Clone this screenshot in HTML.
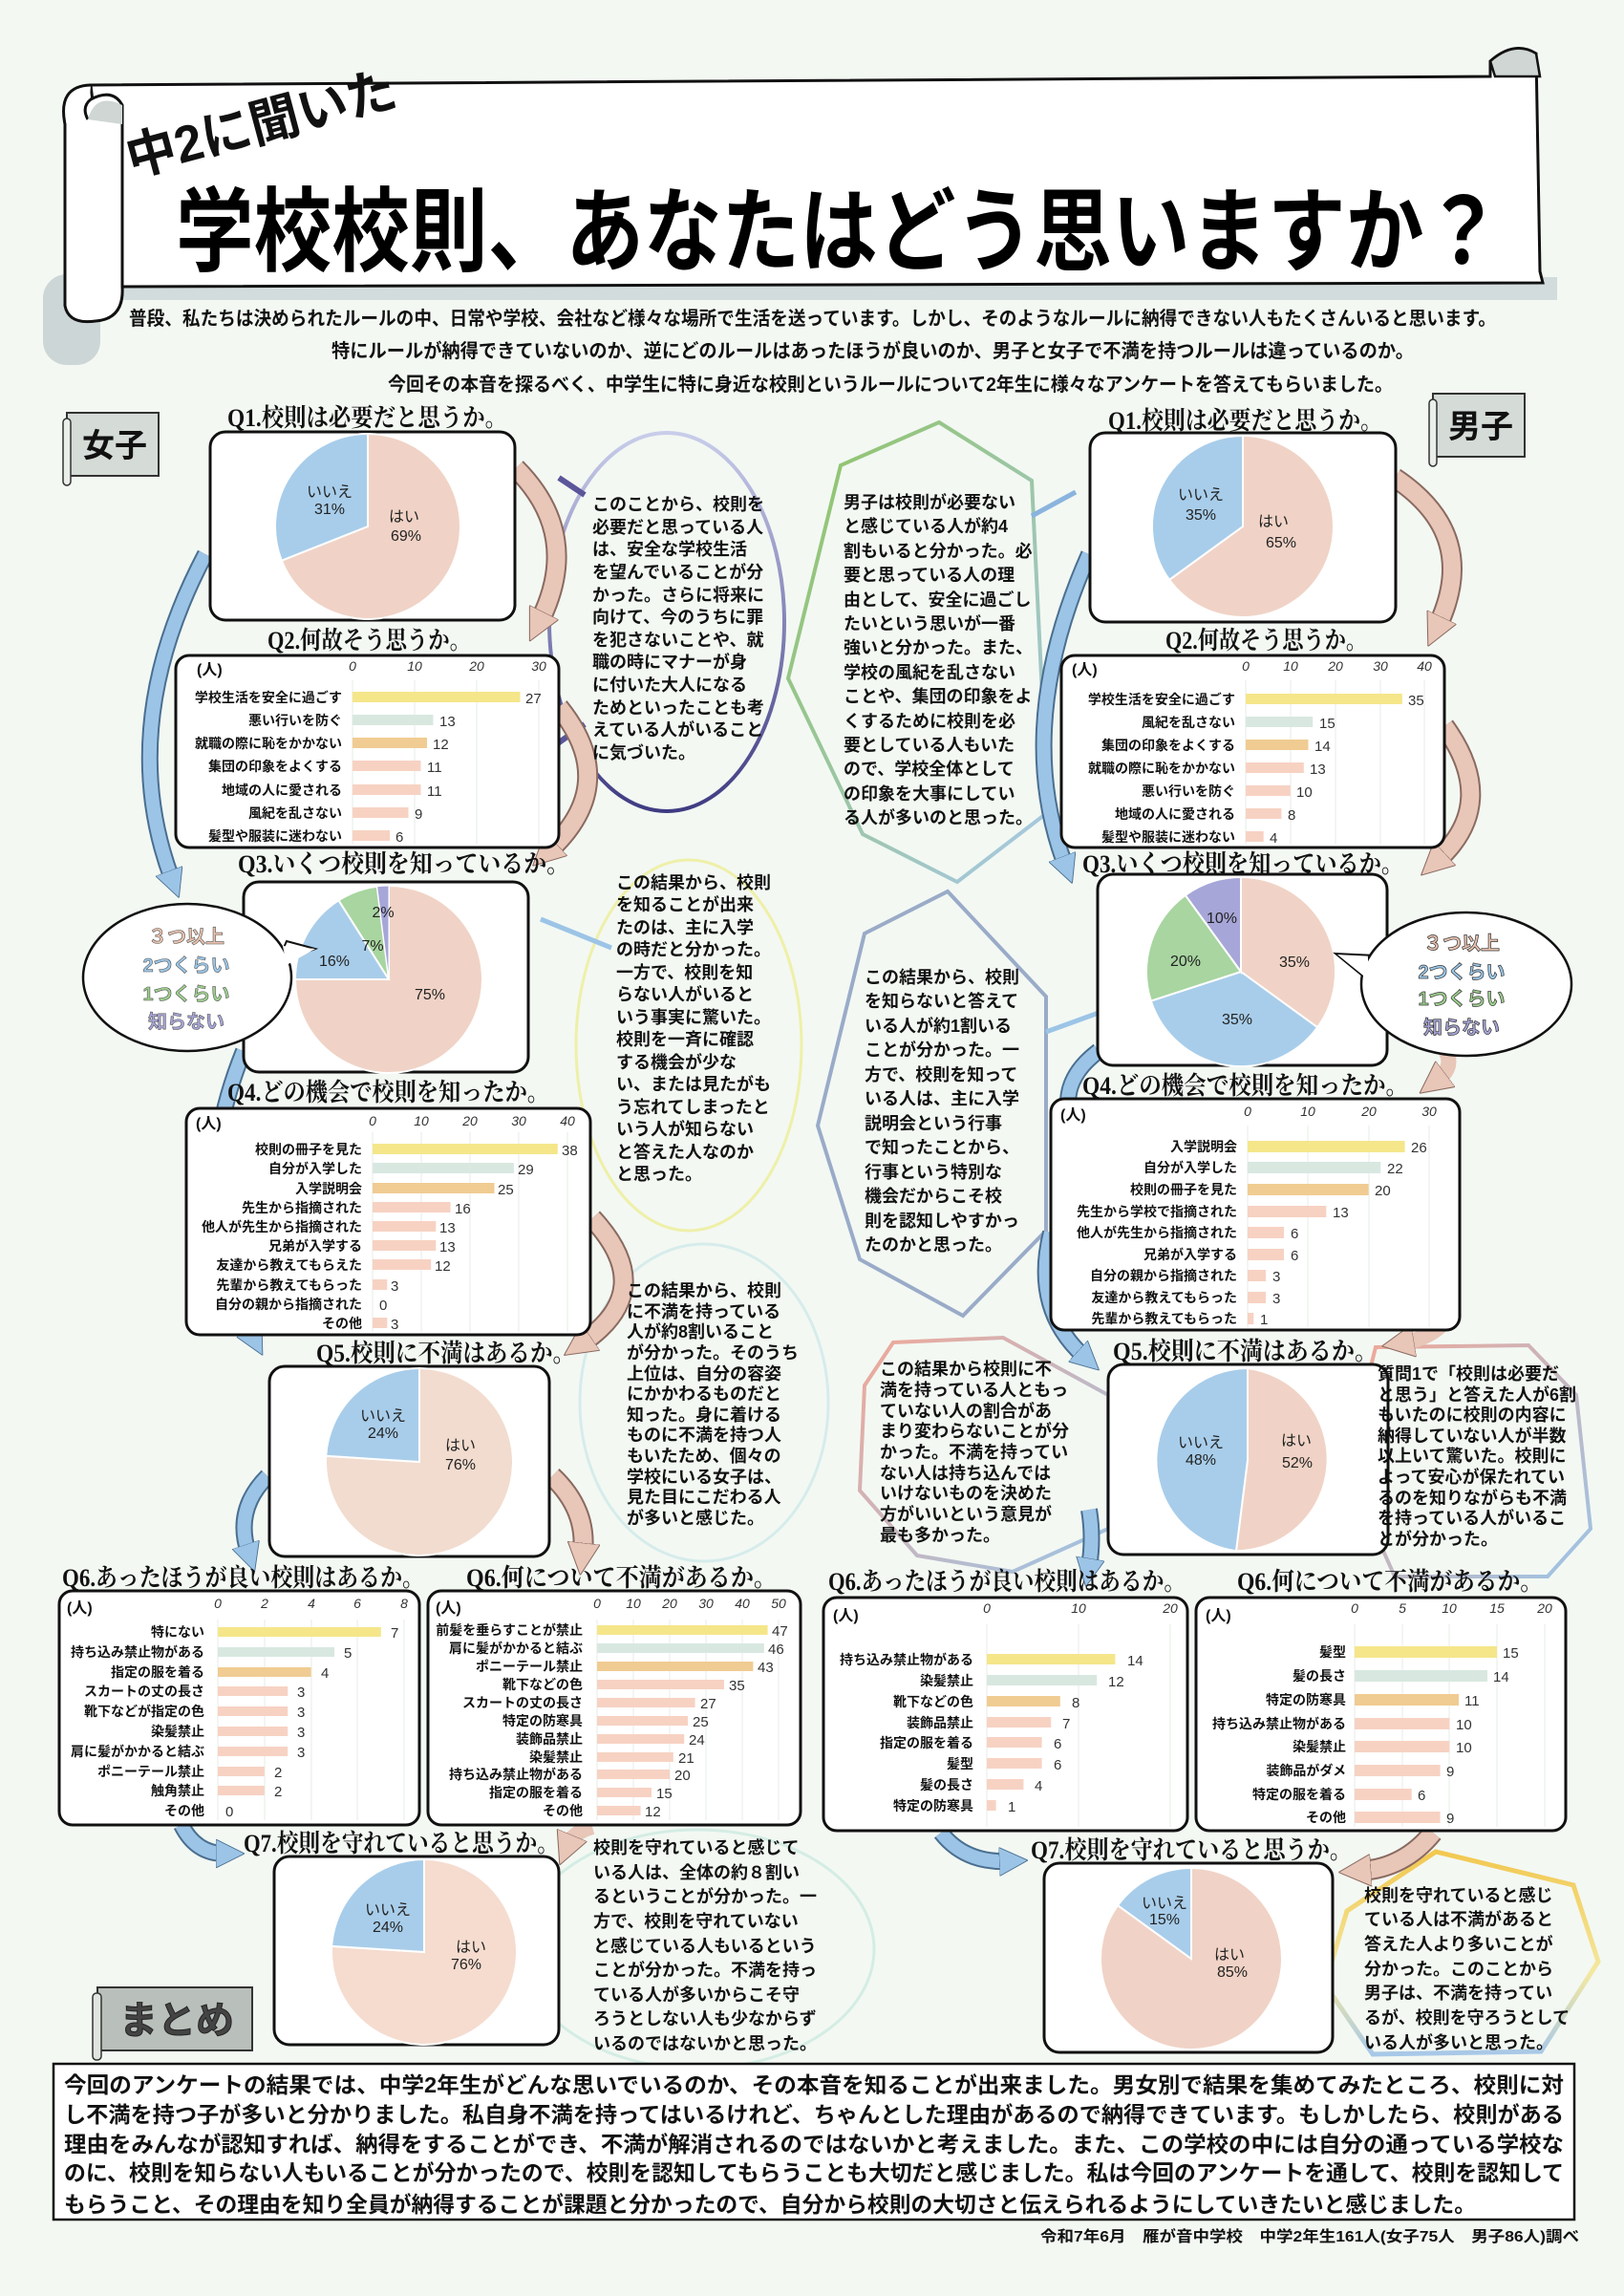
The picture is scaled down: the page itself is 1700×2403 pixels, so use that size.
<!DOCTYPE html>
<html><head><meta charset="utf-8">
<style>
html,body{margin:0;padding:0;background:#f3f8f3;}
svg{display:block}
text{font-family:"Liberation Sans","Noto Sans CJK JP",sans-serif;font-weight:bold;fill:#111}
.h{font-family:"Liberation Serif","Noto Serif CJK SC",serif;font-weight:bold;font-size:26px}
.lb{font-size:14px;text-anchor:end}
.v{font-size:15px;font-weight:normal;fill:#333}
.tk{font-size:14px;font-weight:normal;fill:#333;font-style:italic;text-anchor:middle}
.p{font-size:18px}
.pl{font-size:16px;font-weight:normal;fill:#222;text-anchor:middle}
</style></head><body>
<svg width="1700" height="2403" viewBox="0 0 1700 2403" xmlns="http://www.w3.org/2000/svg">
<defs>
<marker id="ap" markerUnits="userSpaceOnUse" markerWidth="34" markerHeight="34" viewBox="0 0 4 4" refX="1.2" refY="2" orient="auto"><path d="M0,0 L4,2 L0,4 Z" fill="#e8c6b8" stroke="#8a6a60" stroke-width="0.12"/></marker>
<marker id="ab" markerUnits="userSpaceOnUse" markerWidth="30" markerHeight="30" viewBox="0 0 4 4" refX="1.2" refY="2" orient="auto"><path d="M0,0 L4,2 L0,4 Z" fill="#9cc4e6" stroke="#4a6f90" stroke-width="0.12"/></marker>
<linearGradient id="gp" x1="0" y1="0" x2="0" y2="1"><stop offset="0" stop-color="#c9cdea"/><stop offset="1" stop-color="#3f3b82"/></linearGradient>
<linearGradient id="gg" x1="0" y1="0" x2="1" y2="1"><stop offset="0" stop-color="#8fc460"/><stop offset="1" stop-color="#a8c8e8"/></linearGradient>
<linearGradient id="gr" x1="0" y1="0" x2="1" y2="1"><stop offset="0" stop-color="#f0a898"/><stop offset="1" stop-color="#9cc4e6"/></linearGradient>
<linearGradient id="gy" x1="0" y1="0" x2="0" y2="1"><stop offset="0" stop-color="#f2c850"/><stop offset="0.6" stop-color="#f4e8a0"/><stop offset="1" stop-color="#a8c8e8"/></linearGradient>
</defs>

<!-- banner -->
<rect x="45" y="287" width="60" height="95" rx="25" fill="#cdd6d6"/>
<rect x="100" y="290" width="1530" height="24" fill="#d3dcdc"/>
<path d="M95,89 L1560,80 L1560,64 Q1585,42 1608,56 L1612,284 L1615,296 L120,300 Z" fill="#fff" stroke="#111" stroke-width="3"/>
<path d="M1560,64 Q1585,42 1608,56 L1612,80 L1565,80 Z" fill="#cfd6d4" stroke="#111" stroke-width="2.5"/>
<path d="M95,89 Q60,90 68,130 L68,320 Q72,340 100,336 Q130,334 128,300 L128,110 Q118,92 95,104 Q85,112 92,125" fill="#fff" stroke="#111" stroke-width="3"/>
<path d="M92,125 Q100,96 128,110 L128,130 Z" fill="#cfd6d4"/>
<text x="138" y="185" font-size="54" font-family="Liberation Serif,'Noto Serif CJK SC',serif" transform="rotate(-15 138 185)" textLength="290" lengthAdjust="spacingAndGlyphs">中2に聞いた</text>
<text x="184" y="276" font-size="96" font-family="Liberation Serif,'Noto Serif CJK SC',serif" textLength="1388" lengthAdjust="spacingAndGlyphs" style="fill:#000">学校校則、あなたはどう思いますか？</text>

<text x="135" y="340" font-size="20" textLength="1431" lengthAdjust="spacingAndGlyphs">普段、私たちは決められたルールの中、日常や学校、会社など様々な場所で生活を送っています。しかし、そのようなルールに納得できない人もたくさんいると思います。</text>
<text x="347" y="374" font-size="20" textLength="1133" lengthAdjust="spacingAndGlyphs">特にルールが納得できていないのか、逆にどのルールはあったほうが良いのか、男子と女子で不満を持つルールは違っているのか。</text>
<text x="406" y="409" font-size="20" textLength="1052" lengthAdjust="spacingAndGlyphs">今回その本音を探るべく、中学生に特に身近な校則というルールについて2年生に様々なアンケートを答えてもらいました。</text>

<!-- labels -->
<g><rect x="70" y="432" width="96" height="66" fill="#d5dbd6" stroke="#333" stroke-width="2"/><rect x="66" y="438" width="8" height="70" rx="4" fill="#e9eee9" stroke="#333" stroke-width="1.5"/><text x="120" y="478" font-size="34" font-weight="normal" text-anchor="middle" font-family="Liberation Serif,'Noto Serif CJK SC',serif">女子</text></g>
<g><rect x="1500" y="412" width="96" height="66" fill="#d5dbd6" stroke="#333" stroke-width="2"/><rect x="1496" y="418" width="8" height="70" rx="4" fill="#e9eee9" stroke="#333" stroke-width="1.5"/><text x="1550" y="458" font-size="34" font-weight="normal" text-anchor="middle" font-family="Liberation Serif,'Noto Serif CJK SC',serif">男子</text></g>
<g><rect x="102" y="2080" width="162" height="66" fill="#b9bfba" stroke="#333" stroke-width="2"/><rect x="97" y="2086" width="9" height="70" rx="4" fill="#e0e5e0" stroke="#333" stroke-width="1.5"/><text x="185" y="2128" font-size="40" text-anchor="middle" style="fill:#444;stroke:#222;stroke-width:1">まとめ</text></g>

<!-- decorative outlines -->
<ellipse cx="698" cy="651" rx="123" ry="198" fill="none" stroke="url(#gp)" stroke-width="4"/>
<line x1="585" y1="500" x2="612" y2="518" stroke="#5b569a" stroke-width="6"/>
<line x1="567" y1="790" x2="612" y2="758" stroke="#5b569a" stroke-width="6"/>
<polygon points="983,442 1080,503 1097,850 1002,923 903,873 825,710 880,487" fill="none" stroke="url(#gg)" stroke-width="4"/>
<line x1="1080" y1="540" x2="1126" y2="515" stroke="#8ab4de" stroke-width="5"/>
<ellipse cx="721" cy="1094" rx="118" ry="194" fill="none" stroke="#eef0a8" stroke-width="3"/>
<line x1="566" y1="962" x2="640" y2="992" stroke="#9cc4e6" stroke-width="5"/>
<polygon points="905,977 992,933 1095,1043 1095,1288 1008,1377 900,1318 856,1178" fill="none" stroke="#9aabc8" stroke-width="4"/>
<line x1="1095" y1="1080" x2="1150" y2="1060" stroke="#9cc4e6" stroke-width="5"/>
<ellipse cx="737" cy="1468" rx="130" ry="166" fill="none" stroke="#d6eceb" stroke-width="3"/>
<polygon points="935,1405 1050,1400 1160,1460 1160,1600 1060,1645 960,1628 900,1560 905,1450" fill="none" stroke="url(#gr)" stroke-width="4"/>
<polygon points="1440,1410 1600,1408 1650,1460 1665,1600 1620,1650 1460,1650 1420,1560 1430,1450" fill="none" stroke="url(#gr)" stroke-width="4"/>
<ellipse cx="730" cy="2040" rx="185" ry="125" fill="none" stroke="#d4ede4" stroke-width="3"/>
<polygon points="1503,1938 1647,1973 1673,2053 1613,2147 1437,2150 1387,2077 1410,2000" fill="none" stroke="url(#gy)" stroke-width="5"/>

<!-- arrows -->
<g fill="none" stroke-linecap="butt">
<path d="M540,490 Q610,560 565,650" stroke="#8a6a60" stroke-width="22"/><path d="M540,490 Q610,560 565,650" stroke="#e8c6b8" stroke-width="18" marker-end="url(#ap)"/>
<path d="M215,580 Q120,760 180,920" stroke="#4a6f90" stroke-width="18"/><path d="M215,580 Q120,760 180,920" stroke="#9cc4e6" stroke-width="14" marker-end="url(#ab)"/>
<path d="M585,740 Q650,820 575,890" stroke="#8a6a60" stroke-width="22"/><path d="M585,740 Q650,820 575,890" stroke="#e8c6b8" stroke-width="18" marker-end="url(#ap)"/>
<path d="M255,1100 Q190,1260 265,1400" stroke="#4a6f90" stroke-width="18"/><path d="M255,1100 Q190,1260 265,1400" stroke="#9cc4e6" stroke-width="14" marker-end="url(#ab)"/>
<path d="M620,1275 Q690,1350 610,1405" stroke="#8a6a60" stroke-width="22"/><path d="M620,1275 Q690,1350 610,1405" stroke="#e8c6b8" stroke-width="18" marker-end="url(#ap)"/>
<path d="M280,1545 Q245,1580 260,1625" stroke="#4a6f90" stroke-width="18"/><path d="M280,1545 Q245,1580 260,1625" stroke="#9cc4e6" stroke-width="14" marker-end="url(#ab)"/>
<path d="M578,1545 Q615,1580 610,1625" stroke="#8a6a60" stroke-width="22"/><path d="M578,1545 Q615,1580 610,1625" stroke="#e8c6b8" stroke-width="18" marker-end="url(#ap)"/>
<path d="M190,1910 Q205,1940 235,1940" stroke="#4a6f90" stroke-width="18"/><path d="M190,1910 Q205,1940 235,1940" stroke="#9cc4e6" stroke-width="14" marker-end="url(#ab)"/>
<path d="M620,1912 Q600,1918 595,1930" stroke="#e8c6b8" stroke-width="16" marker-end="url(#ap)"/>
<path d="M1460,500 Q1550,560 1505,655" stroke="#8a6a60" stroke-width="22"/><path d="M1460,500 Q1550,560 1505,655" stroke="#e8c6b8" stroke-width="18" marker-end="url(#ap)"/>
<path d="M1140,580 Q1060,760 1115,905" stroke="#4a6f90" stroke-width="18"/><path d="M1140,580 Q1060,760 1115,905" stroke="#9cc4e6" stroke-width="14" marker-end="url(#ab)"/>
<path d="M1512,760 Q1570,840 1505,900" stroke="#8a6a60" stroke-width="22"/><path d="M1512,760 Q1570,840 1505,900" stroke="#e8c6b8" stroke-width="18" marker-end="url(#ap)"/>
<path d="M1150,1100 Q1110,1130 1120,1170" stroke="#4a6f90" stroke-width="18"/><path d="M1150,1100 Q1110,1130 1120,1170" stroke="#9cc4e6" stroke-width="14"/>
<path d="M1510,1095 Q1525,1115 1505,1130" stroke="#e8c6b8" stroke-width="16" marker-end="url(#ap)"/>
<path d="M1100,1290 Q1080,1370 1135,1420" stroke="#4a6f90" stroke-width="18"/><path d="M1100,1290 Q1080,1370 1135,1420" stroke="#9cc4e6" stroke-width="14" marker-end="url(#ab)"/>
<path d="M1515,1380 Q1500,1400 1470,1405" stroke="#e8c6b8" stroke-width="16" marker-end="url(#ap)"/>
<path d="M1140,1580 Q1145,1610 1140,1640" stroke="#4a6f90" stroke-width="18"/><path d="M1140,1580 Q1145,1610 1140,1640" stroke="#9cc4e6" stroke-width="14" marker-end="url(#ab)"/>
<path d="M985,1918 Q1010,1950 1055,1948" stroke="#4a6f90" stroke-width="18"/><path d="M985,1918 Q1010,1950 1055,1948" stroke="#9cc4e6" stroke-width="14" marker-end="url(#ab)"/>
<path d="M1500,1918 Q1470,1955 1425,1958" stroke="#8a6a60" stroke-width="22"/><path d="M1500,1918 Q1470,1955 1425,1958" stroke="#e8c6b8" stroke-width="18" marker-end="url(#ap)"/>
</g>

<!-- headings -->
<text class="h" x="238" y="446" textLength="293" lengthAdjust="spacingAndGlyphs">Q1.校則は必要だと思うか。</text>
<text class="h" x="1160" y="449" textLength="287" lengthAdjust="spacingAndGlyphs">Q1.校則は必要だと思うか。</text>
<text class="h" x="280" y="679" textLength="213" lengthAdjust="spacingAndGlyphs">Q2.何故そう思うか。</text>
<text class="h" x="1220" y="679" textLength="211" lengthAdjust="spacingAndGlyphs">Q2.何故そう思うか。</text>
<text class="h" x="249" y="913" textLength="347" lengthAdjust="spacingAndGlyphs">Q3.いくつ校則を知っているか。</text>
<text class="h" x="1133" y="913" textLength="336" lengthAdjust="spacingAndGlyphs">Q3.いくつ校則を知っているか。</text>
<text class="h" x="238" y="1152" textLength="337" lengthAdjust="spacingAndGlyphs">Q4.どの機会で校則を知ったか。</text>
<text class="h" x="1133" y="1145" textLength="341" lengthAdjust="spacingAndGlyphs">Q4.どの機会で校則を知ったか。</text>
<text class="h" x="331" y="1425" textLength="271" lengthAdjust="spacingAndGlyphs">Q5.校則に不満はあるか。</text>
<text class="h" x="1165" y="1423" textLength="277" lengthAdjust="spacingAndGlyphs">Q5.校則に不満はあるか。</text>
<text class="h" x="65" y="1660" textLength="379" lengthAdjust="spacingAndGlyphs">Q6.あったほうが良い校則はあるか。</text>
<text class="h" x="488" y="1660" textLength="325" lengthAdjust="spacingAndGlyphs">Q6.何について不満があるか。</text>
<text class="h" x="867" y="1664" textLength="374" lengthAdjust="spacingAndGlyphs">Q6.あったほうが良い校則はあるか。</text>
<text class="h" x="1295" y="1664" textLength="320" lengthAdjust="spacingAndGlyphs">Q6.何について不満があるか。</text>
<text class="h" x="255" y="1938" textLength="330" lengthAdjust="spacingAndGlyphs">Q7.校則を守れていると思うか。</text>
<text class="h" x="1079" y="1945" textLength="336" lengthAdjust="spacingAndGlyphs">Q7.校則を守れていると思うか。</text>

<!-- Q1 pies -->
<rect x="220" y="452" width="319" height="197" rx="16" fill="#fff" stroke="#111" stroke-width="3"/>
<path d="M385,551 L385,454 A97,97 0 1 1 294.8,586.7 Z" fill="#f0d3c6" stroke="#fff" stroke-width="2"/>
<path d="M385,551 L294.8,586.7 A97,97 0 0 1 385,454 Z" fill="#a8cdea" stroke="#fff" stroke-width="2"/>
<text class="pl" x="345" y="520">いいえ</text><text class="pl" x="345" y="538">31%</text>
<text class="pl" x="423" y="546">はい</text><text class="pl" x="425" y="566">69%</text>

<rect x="1141" y="453" width="320" height="198" rx="16" fill="#fff" stroke="#111" stroke-width="3"/>
<path d="M1301,551 L1301,456 A95,95 0 1 1 1224.1,606.8 Z" fill="#f0d3c6" stroke="#fff" stroke-width="2"/>
<path d="M1301,551 L1224.1,606.8 A95,95 0 0 1 1301,456 Z" fill="#a8cdea" stroke="#fff" stroke-width="2"/>
<text class="pl" x="1257" y="523">いいえ</text><text class="pl" x="1257" y="544">35%</text>
<text class="pl" x="1333" y="551">はい</text><text class="pl" x="1341" y="573">65%</text>

<!-- Q2 girls -->
<rect x="184" y="686" width="401" height="201" rx="14" fill="#fff" stroke="#111" stroke-width="3"/>
<g stroke="#e6eee6" stroke-width="1"><line x1="369" y1="712" x2="369" y2="884"/><line x1="434" y1="712" x2="434" y2="884"/><line x1="499" y1="712" x2="499" y2="884"/><line x1="564" y1="712" x2="564" y2="884"/></g>
<text x="206" y="706" font-size="16" font-weight="normal">(人)</text>
<text class="tk" x="369" y="702">0</text><text class="tk" x="434" y="702">10</text><text class="tk" x="499" y="702">20</text><text class="tk" x="564" y="702">30</text>
<rect x="369" y="724" width="175.5" height="11" fill="#f5e68a"/><rect x="369" y="748" width="84.5" height="11" fill="#d8e8e0"/><rect x="369" y="772" width="78" height="11" fill="#f0cc92"/><rect x="369" y="796" width="71.5" height="11" fill="#f7d2c3"/><rect x="369" y="821" width="71.5" height="11" fill="#f7d2c3"/><rect x="369" y="845" width="58.5" height="11" fill="#f7d2c3"/><rect x="369" y="869" width="39" height="11" fill="#f7d2c3"/>
<g class="lb"><text class="lb" x="358" y="735">学校生活を安全に過ごす</text><text class="lb" x="358" y="759">悪い行いを防ぐ</text><text class="lb" x="358" y="783">就職の際に恥をかかない</text><text class="lb" x="358" y="807">集団の印象をよくする</text><text class="lb" x="358" y="832">地域の人に愛される</text><text class="lb" x="358" y="856">風紀を乱さない</text><text class="lb" x="358" y="880">髪型や服装に迷わない</text></g>
<text class="v" x="550" y="736">27</text><text class="v" x="460" y="760">13</text><text class="v" x="453" y="784">12</text><text class="v" x="447" y="808">11</text><text class="v" x="447" y="833">11</text><text class="v" x="434" y="857">9</text><text class="v" x="414" y="881">6</text>

<!-- Q2 boys -->
<rect x="1111" y="686" width="401" height="201" rx="14" fill="#fff" stroke="#111" stroke-width="3"/>
<g stroke="#e6eee6" stroke-width="1"><line x1="1304" y1="712" x2="1304" y2="884"/><line x1="1351" y1="712" x2="1351" y2="884"/><line x1="1398" y1="712" x2="1398" y2="884"/><line x1="1445" y1="712" x2="1445" y2="884"/><line x1="1491" y1="712" x2="1491" y2="884"/></g>
<text x="1122" y="706" font-size="16" font-weight="normal">(人)</text>
<text class="tk" x="1304" y="702">0</text><text class="tk" x="1351" y="702">10</text><text class="tk" x="1398" y="702">20</text><text class="tk" x="1445" y="702">30</text><text class="tk" x="1491" y="702">40</text>
<rect x="1304" y="726" width="163.8" height="11" fill="#f5e68a"/><rect x="1304" y="750" width="70.2" height="11" fill="#d8e8e0"/><rect x="1304" y="774" width="65.5" height="11" fill="#f0cc92"/><rect x="1304" y="798" width="60.8" height="11" fill="#f7d2c3"/><rect x="1304" y="822" width="46.8" height="11" fill="#f7d2c3"/><rect x="1304" y="846" width="37.4" height="11" fill="#f7d2c3"/><rect x="1304" y="870" width="18.7" height="11" fill="#f7d2c3"/>
<text class="lb" x="1293" y="737">学校生活を安全に過ごす</text><text class="lb" x="1293" y="761">風紀を乱さない</text><text class="lb" x="1293" y="785">集団の印象をよくする</text><text class="lb" x="1293" y="809">就職の際に恥をかかない</text><text class="lb" x="1293" y="833">悪い行いを防ぐ</text><text class="lb" x="1293" y="857">地域の人に愛される</text><text class="lb" x="1293" y="881">髪型や服装に迷わない</text>
<text class="v" x="1474" y="738">35</text><text class="v" x="1381" y="762">15</text><text class="v" x="1376" y="786">14</text><text class="v" x="1371" y="810">13</text><text class="v" x="1357" y="834">10</text><text class="v" x="1348" y="858">8</text><text class="v" x="1329" y="882">4</text>

<!-- Q3 girls -->
<rect x="255" y="923" width="298" height="199" rx="16" fill="#fff" stroke="#111" stroke-width="3"/>
<path d="M407,1025 L407,927 A98,98 0 1 1 309,1025 Z" fill="#f0d3c6" stroke="#fff" stroke-width="2"/>
<path d="M407,1025 L309,1025 A98,98 0 0 1 354.5,942.3 Z" fill="#a8cdea" stroke="#fff" stroke-width="2"/>
<path d="M407,1025 L354.5,942.3 A98,98 0 0 1 394.7,927.8 Z" fill="#a8d5a0" stroke="#fff" stroke-width="2"/>
<path d="M407,1025 L394.7,927.8 A98,98 0 0 1 407,927 Z" fill="#a7a6d8" stroke="#fff" stroke-width="1"/>
<text class="pl" x="450" y="1046" font-size="18">75%</text><text class="pl" x="350" y="1011" font-size="18">16%</text><text class="pl" x="390" y="995" font-size="18">7%</text><text class="pl" x="401" y="960" font-size="18">2%</text>
<path d="M300,985 L330,993 L290,1008 Z" fill="#fff" stroke="#111" stroke-width="2"/>
<ellipse cx="196" cy="1023" rx="109" ry="77" fill="#fff" stroke="#111" stroke-width="2.5"/>
<path d="M296,990 L330,993 L300,1010" fill="#fff" stroke="none"/>
<g font-size="20" text-anchor="middle" stroke="#555" stroke-width="0.6"><text x="195" y="987" style="fill:#e8c2ae">３つ以上</text><text x="195" y="1017" style="fill:#9cc8ea">2つくらい</text><text x="195" y="1047" style="fill:#9ed08e">1つくらい</text><text x="195" y="1076" style="fill:#a7a6d8">知らない</text></g>

<!-- Q3 boys -->
<rect x="1149" y="915" width="303" height="200" rx="16" fill="#fff" stroke="#111" stroke-width="3"/>
<path d="M1299,1017 L1299,918 A99,99 0 0 1 1379.1,1075.2 Z" fill="#f0d3c6" stroke="#fff" stroke-width="2"/>
<path d="M1299,1017 L1379.1,1075.2 A99,99 0 0 1 1204.8,1047.6 Z" fill="#a8cdea" stroke="#fff" stroke-width="2"/>
<path d="M1299,1017 L1204.8,1047.6 A99,99 0 0 1 1240.8,936.9 Z" fill="#a8d5a0" stroke="#fff" stroke-width="2"/>
<path d="M1299,1017 L1240.8,936.9 A99,99 0 0 1 1299,918 Z" fill="#a7a6d8" stroke="#fff" stroke-width="2"/>
<text class="pl" x="1279" y="966" font-size="18">10%</text><text class="pl" x="1241" y="1011" font-size="18">20%</text><text class="pl" x="1355" y="1012" font-size="18">35%</text><text class="pl" x="1295" y="1072" font-size="18">35%</text>
<path d="M1440,1000 L1398,998 L1437,1030 Z" fill="#fff" stroke="#111" stroke-width="2"/>
<ellipse cx="1535" cy="1030" rx="110" ry="75" fill="#fff" stroke="#111" stroke-width="2.5"/>
<path d="M1432,1002 L1400,999 L1432,1025 Z" fill="#fff"/>
<g font-size="20" text-anchor="middle" stroke="#333" stroke-width="0.7"><text x="1530" y="994" style="fill:#e8c2ae">３つ以上</text><text x="1530" y="1024" style="fill:#9cc8ea">2つくらい</text><text x="1530" y="1052" style="fill:#9ed08e">1つくらい</text><text x="1530" y="1082" style="fill:#a7a6d8">知らない</text></g>

<!-- Q4 girls -->
<rect x="195" y="1160" width="423" height="237" rx="14" fill="#fff" stroke="#111" stroke-width="3"/>
<g stroke="#e6eee6" stroke-width="1"><line x1="390" y1="1185" x2="390" y2="1394"/><line x1="441" y1="1185" x2="441" y2="1394"/><line x1="492" y1="1185" x2="492" y2="1394"/><line x1="543" y1="1185" x2="543" y2="1394"/><line x1="594" y1="1185" x2="594" y2="1394"/></g>
<text x="205" y="1181" font-size="16" font-weight="normal">(人)</text>
<text class="tk" x="390" y="1178">0</text><text class="tk" x="441" y="1178">10</text><text class="tk" x="492" y="1178">20</text><text class="tk" x="543" y="1178">30</text><text class="tk" x="594" y="1178">40</text>
<rect x="390" y="1197" width="193.8" height="11" fill="#f5e68a"/><rect x="390" y="1217" width="147.9" height="11" fill="#d8e8e0"/><rect x="390" y="1238" width="127.5" height="11" fill="#f0cc92"/><rect x="390" y="1258" width="81.6" height="11" fill="#f7d2c3"/><rect x="390" y="1278" width="66.3" height="11" fill="#f7d2c3"/><rect x="390" y="1298" width="66.3" height="11" fill="#f7d2c3"/><rect x="390" y="1318" width="61.2" height="11" fill="#f7d2c3"/><rect x="390" y="1339" width="15.3" height="11" fill="#f7d2c3"/><rect x="390" y="1379" width="15.3" height="11" fill="#f7d2c3"/>
<g font-size="13"><text class="lb" x="379" y="1208" font-size="13">校則の冊子を見た</text><text class="lb" x="379" y="1228" font-size="13">自分が入学した</text><text class="lb" x="379" y="1249" font-size="13">入学説明会</text><text class="lb" x="379" y="1269" font-size="13">先生から指摘された</text><text class="lb" x="379" y="1289" font-size="13">他人が先生から指摘された</text><text class="lb" x="379" y="1309" font-size="13">兄弟が入学する</text><text class="lb" x="379" y="1329" font-size="13">友達から教えてもらえた</text><text class="lb" x="379" y="1350" font-size="13">先輩から教えてもらった</text><text class="lb" x="379" y="1370" font-size="13">自分の親から指摘された</text><text class="lb" x="379" y="1390" font-size="13">その他</text></g>
<text class="v" x="588" y="1209">38</text><text class="v" x="542" y="1229">29</text><text class="v" x="521" y="1250">25</text><text class="v" x="476" y="1270">16</text><text class="v" x="460" y="1290">13</text><text class="v" x="460" y="1310">13</text><text class="v" x="455" y="1330">12</text><text class="v" x="409" y="1351">3</text><text class="v" x="397" y="1371">0</text><text class="v" x="409" y="1391">3</text>

<!-- Q4 boys -->
<rect x="1100" y="1150" width="428" height="242" rx="14" fill="#fff" stroke="#111" stroke-width="3"/>
<g stroke="#e6eee6" stroke-width="1"><line x1="1306" y1="1178" x2="1306" y2="1389"/><line x1="1369" y1="1178" x2="1369" y2="1389"/><line x1="1433" y1="1178" x2="1433" y2="1389"/><line x1="1496" y1="1178" x2="1496" y2="1389"/></g>
<text x="1110" y="1172" font-size="16" font-weight="normal">(人)</text>
<text class="tk" x="1306" y="1168">0</text><text class="tk" x="1369" y="1168">10</text><text class="tk" x="1433" y="1168">20</text><text class="tk" x="1496" y="1168">30</text>
<rect x="1306" y="1194" width="164.6" height="12" fill="#f5e68a"/><rect x="1306" y="1216" width="139.3" height="12" fill="#d8e8e0"/><rect x="1306" y="1239" width="126.6" height="12" fill="#f0cc92"/><rect x="1306" y="1262" width="82.3" height="12" fill="#f7d2c3"/><rect x="1306" y="1284" width="38" height="12" fill="#f7d2c3"/><rect x="1306" y="1307" width="38" height="12" fill="#f7d2c3"/><rect x="1306" y="1329" width="19" height="12" fill="#f7d2c3"/><rect x="1306" y="1352" width="19" height="12" fill="#f7d2c3"/><rect x="1306" y="1374" width="6.3" height="12" fill="#f7d2c3"/>
<text class="lb" x="1295" y="1205" font-size="13">入学説明会</text><text class="lb" x="1295" y="1227" font-size="13">自分が入学した</text><text class="lb" x="1295" y="1250" font-size="13">校則の冊子を見た</text><text class="lb" x="1295" y="1273" font-size="13">先生から学校で指摘された</text><text class="lb" x="1295" y="1295" font-size="13">他人が先生から指摘された</text><text class="lb" x="1295" y="1318" font-size="13">兄弟が入学する</text><text class="lb" x="1295" y="1340" font-size="13">自分の親から指摘された</text><text class="lb" x="1295" y="1363" font-size="13">友達から教えてもらった</text><text class="lb" x="1295" y="1385" font-size="13">先輩から教えてもらった</text>
<text class="v" x="1477" y="1206">26</text><text class="v" x="1452" y="1228">22</text><text class="v" x="1439" y="1251">20</text><text class="v" x="1395" y="1274">13</text><text class="v" x="1351" y="1296">6</text><text class="v" x="1351" y="1319">6</text><text class="v" x="1332" y="1341">3</text><text class="v" x="1332" y="1364">3</text><text class="v" x="1319" y="1386">1</text>

<!-- Q5 -->
<rect x="282" y="1430" width="293" height="199" rx="16" fill="#fff" stroke="#111" stroke-width="3"/>
<path d="M439,1530 L439,1432 A98,98 0 1 1 341.2,1523.8 Z" fill="#f2dccf" stroke="#fff" stroke-width="2"/>
<path d="M439,1530 L341.2,1523.8 A98,98 0 0 1 439,1432 Z" fill="#a8cdea" stroke="#fff" stroke-width="2"/>
<text class="pl" x="401" y="1487">いいえ</text><text class="pl" x="401" y="1505">24%</text><text class="pl" x="482" y="1518">はい</text><text class="pl" x="482" y="1538">76%</text>

<rect x="1160" y="1428" width="293" height="199" rx="16" fill="#fff" stroke="#111" stroke-width="3"/>
<path d="M1306,1528 L1306,1432 A96,96 0 0 1 1294,1623.2 Z" fill="#f0d3c6" stroke="#fff" stroke-width="2"/>
<path d="M1306,1528 L1294,1623.2 A96,96 0 0 1 1306,1432 Z" fill="#a8cdea" stroke="#fff" stroke-width="2"/>
<text class="pl" x="1257" y="1515">いいえ</text><text class="pl" x="1257" y="1533">48%</text><text class="pl" x="1357" y="1513">はい</text><text class="pl" x="1358" y="1536">52%</text>

<!-- Q6 girls a -->
<rect x="62" y="1665" width="377" height="245" rx="14" fill="#fff" stroke="#111" stroke-width="3"/>
<g stroke="#e6eee6" stroke-width="1"><line x1="228" y1="1695" x2="228" y2="1905"/><line x1="277" y1="1695" x2="277" y2="1905"/><line x1="326" y1="1695" x2="326" y2="1905"/><line x1="374" y1="1695" x2="374" y2="1905"/><line x1="423" y1="1695" x2="423" y2="1905"/></g>
<text x="70" y="1688" font-size="16" font-weight="normal">(人)</text>
<text class="tk" x="228" y="1683">0</text><text class="tk" x="277" y="1683">2</text><text class="tk" x="326" y="1683">4</text><text class="tk" x="374" y="1683">6</text><text class="tk" x="423" y="1683">8</text>
<rect x="228" y="1703" width="170.8" height="10" fill="#f5e68a"/><rect x="228" y="1724" width="122" height="10" fill="#d8e8e0"/><rect x="228" y="1745" width="97.6" height="10" fill="#f0cc92"/><rect x="228" y="1765" width="73.2" height="10" fill="#f7d2c3"/><rect x="228" y="1786" width="73.2" height="10" fill="#f7d2c3"/><rect x="228" y="1807" width="73.2" height="10" fill="#f7d2c3"/><rect x="228" y="1828" width="73.2" height="10" fill="#f7d2c3"/><rect x="228" y="1849" width="48.8" height="10" fill="#f7d2c3"/><rect x="228" y="1869" width="48.8" height="10" fill="#f7d2c3"/>
<text class="lb" x="214" y="1713">特にない</text><text class="lb" x="214" y="1734">持ち込み禁止物がある</text><text class="lb" x="214" y="1755">指定の服を着る</text><text class="lb" x="214" y="1775">スカートの丈の長さ</text><text class="lb" x="214" y="1796">靴下などが指定の色</text><text class="lb" x="214" y="1817">染髪禁止</text><text class="lb" x="214" y="1838">肩に髪がかかると結ぶ</text><text class="lb" x="214" y="1859">ポニーテール禁止</text><text class="lb" x="214" y="1879">触角禁止</text><text class="lb" x="214" y="1900">その他</text>
<text class="v" x="409" y="1714">7</text><text class="v" x="360" y="1735">5</text><text class="v" x="336" y="1756">4</text><text class="v" x="311" y="1776">3</text><text class="v" x="311" y="1797">3</text><text class="v" x="311" y="1818">3</text><text class="v" x="311" y="1839">3</text><text class="v" x="287" y="1860">2</text><text class="v" x="287" y="1880">2</text><text class="v" x="236" y="1901">0</text>

<!-- Q6 girls b -->
<rect x="448" y="1665" width="390" height="245" rx="14" fill="#fff" stroke="#111" stroke-width="3"/>
<g stroke="#e6eee6" stroke-width="1"><line x1="625" y1="1695" x2="625" y2="1905"/><line x1="663" y1="1695" x2="663" y2="1905"/><line x1="701" y1="1695" x2="701" y2="1905"/><line x1="739" y1="1695" x2="739" y2="1905"/><line x1="777" y1="1695" x2="777" y2="1905"/><line x1="815" y1="1695" x2="815" y2="1905"/></g>
<text x="456" y="1688" font-size="16" font-weight="normal">(人)</text>
<text class="tk" x="625" y="1683">0</text><text class="tk" x="663" y="1683">10</text><text class="tk" x="701" y="1683">20</text><text class="tk" x="739" y="1683">30</text><text class="tk" x="777" y="1683">40</text><text class="tk" x="815" y="1683">50</text>
<rect x="625" y="1701" width="178.6" height="10" fill="#f5e68a"/><rect x="625" y="1720" width="174.8" height="10" fill="#d8e8e0"/><rect x="625" y="1739" width="163.4" height="10" fill="#f0cc92"/><rect x="625" y="1758" width="133" height="10" fill="#f7d2c3"/><rect x="625" y="1777" width="102.6" height="10" fill="#f7d2c3"/><rect x="625" y="1796" width="95" height="10" fill="#f7d2c3"/><rect x="625" y="1815" width="91.2" height="10" fill="#f7d2c3"/><rect x="625" y="1834" width="79.8" height="10" fill="#f7d2c3"/><rect x="625" y="1852" width="76" height="10" fill="#f7d2c3"/><rect x="625" y="1871" width="57" height="10" fill="#f7d2c3"/><rect x="625" y="1890" width="45.6" height="10" fill="#f7d2c3"/>
<text class="lb" x="610" y="1711" font-size="13">前髪を垂らすことが禁止</text><text class="lb" x="610" y="1730" font-size="13">肩に髪がかかると結ぶ</text><text class="lb" x="610" y="1749" font-size="13">ポニーテール禁止</text><text class="lb" x="610" y="1768" font-size="13">靴下などの色</text><text class="lb" x="610" y="1787" font-size="13">スカートの丈の長さ</text><text class="lb" x="610" y="1806" font-size="13">特定の防寒具</text><text class="lb" x="610" y="1825" font-size="13">装飾品禁止</text><text class="lb" x="610" y="1844" font-size="13">染髪禁止</text><text class="lb" x="610" y="1862" font-size="13">持ち込み禁止物がある</text><text class="lb" x="610" y="1881" font-size="13">指定の服を着る</text><text class="lb" x="610" y="1900" font-size="13">その他</text>
<text class="v" x="808" y="1712">47</text><text class="v" x="804" y="1731">46</text><text class="v" x="793" y="1750">43</text><text class="v" x="763" y="1769">35</text><text class="v" x="733" y="1788">27</text><text class="v" x="725" y="1807">25</text><text class="v" x="721" y="1826">24</text><text class="v" x="710" y="1845">21</text><text class="v" x="706" y="1863">20</text><text class="v" x="687" y="1882">15</text><text class="v" x="675" y="1901">12</text>

<!-- Q6 boys a -->
<rect x="862" y="1672" width="381" height="244" rx="14" fill="#fff" stroke="#111" stroke-width="3"/>
<g stroke="#e6eee6" stroke-width="1"><line x1="1033" y1="1700" x2="1033" y2="1912"/><line x1="1129" y1="1700" x2="1129" y2="1912"/><line x1="1225" y1="1700" x2="1225" y2="1912"/></g>
<text x="872" y="1696" font-size="16" font-weight="normal">(人)</text>
<text class="tk" x="1033" y="1688">0</text><text class="tk" x="1129" y="1688">10</text><text class="tk" x="1225" y="1688">20</text>
<rect x="1033" y="1731" width="134.4" height="11" fill="#f5e68a"/><rect x="1033" y="1753" width="115.2" height="11" fill="#d8e8e0"/><rect x="1033" y="1775" width="76.8" height="11" fill="#f0cc92"/><rect x="1033" y="1797" width="67.2" height="11" fill="#f7d2c3"/><rect x="1033" y="1818" width="57.6" height="11" fill="#f7d2c3"/><rect x="1033" y="1840" width="57.6" height="11" fill="#f7d2c3"/><rect x="1033" y="1862" width="38.4" height="11" fill="#f7d2c3"/><rect x="1033" y="1884" width="9.6" height="11" fill="#f7d2c3"/>
<text class="lb" x="1019" y="1742">持ち込み禁止物がある</text><text class="lb" x="1019" y="1764">染髪禁止</text><text class="lb" x="1019" y="1786">靴下などの色</text><text class="lb" x="1019" y="1808">装飾品禁止</text><text class="lb" x="1019" y="1829">指定の服を着る</text><text class="lb" x="1019" y="1851">髪型</text><text class="lb" x="1019" y="1873">髪の長さ</text><text class="lb" x="1019" y="1895">特定の防寒具</text>
<text class="v" x="1180" y="1743">14</text><text class="v" x="1160" y="1765">12</text><text class="v" x="1122" y="1787">8</text><text class="v" x="1112" y="1809">7</text><text class="v" x="1103" y="1830">6</text><text class="v" x="1103" y="1852">6</text><text class="v" x="1083" y="1874">4</text><text class="v" x="1055" y="1896">1</text>

<!-- Q6 boys b -->
<rect x="1252" y="1672" width="387" height="244" rx="14" fill="#fff" stroke="#111" stroke-width="3"/>
<g stroke="#e6eee6" stroke-width="1"><line x1="1418" y1="1700" x2="1418" y2="1912"/><line x1="1468" y1="1700" x2="1468" y2="1912"/><line x1="1517" y1="1700" x2="1517" y2="1912"/><line x1="1567" y1="1700" x2="1567" y2="1912"/><line x1="1617" y1="1700" x2="1617" y2="1912"/></g>
<text x="1262" y="1696" font-size="16" font-weight="normal">(人)</text>
<text class="tk" x="1418" y="1688">0</text><text class="tk" x="1468" y="1688">5</text><text class="tk" x="1517" y="1688">10</text><text class="tk" x="1567" y="1688">15</text><text class="tk" x="1617" y="1688">20</text>
<rect x="1418" y="1723" width="149" height="12" fill="#f5e68a"/><rect x="1418" y="1748" width="139" height="12" fill="#d8e8e0"/><rect x="1418" y="1773" width="109" height="12" fill="#f0cc92"/><rect x="1418" y="1798" width="99.5" height="12" fill="#f7d2c3"/><rect x="1418" y="1822" width="99.5" height="12" fill="#f7d2c3"/><rect x="1418" y="1847" width="89.6" height="12" fill="#f7d2c3"/><rect x="1418" y="1872" width="59.7" height="12" fill="#f7d2c3"/><rect x="1418" y="1896" width="89.6" height="12" fill="#f7d2c3"/>
<text class="lb" x="1409" y="1734">髪型</text><text class="lb" x="1409" y="1759">髪の長さ</text><text class="lb" x="1409" y="1784">特定の防寒具</text><text class="lb" x="1409" y="1809">持ち込み禁止物がある</text><text class="lb" x="1409" y="1833">染髪禁止</text><text class="lb" x="1409" y="1858">装飾品がダメ</text><text class="lb" x="1409" y="1883">特定の服を着る</text><text class="lb" x="1409" y="1907">その他</text>
<text class="v" x="1573" y="1735">15</text><text class="v" x="1563" y="1760">14</text><text class="v" x="1533" y="1785">11</text><text class="v" x="1524" y="1810">10</text><text class="v" x="1524" y="1834">10</text><text class="v" x="1514" y="1859">9</text><text class="v" x="1484" y="1884">6</text><text class="v" x="1514" y="1908">9</text>

<!-- Q7 -->
<rect x="287" y="1943" width="298" height="197" rx="16" fill="#fff" stroke="#111" stroke-width="3"/>
<path d="M444,2043 L444,1946 A97,97 0 1 1 347.2,2036.9 Z" fill="#f5dccf" stroke="#fff" stroke-width="2"/>
<path d="M444,2043 L347.2,2036.9 A97,97 0 0 1 444,1946 Z" fill="#a8cdea" stroke="#fff" stroke-width="2"/>
<text class="pl" x="406" y="2004">いいえ</text><text class="pl" x="406" y="2022">24%</text><text class="pl" x="493" y="2043">はい</text><text class="pl" x="488" y="2061">76%</text>

<rect x="1093" y="1950" width="302" height="198" rx="16" fill="#fff" stroke="#111" stroke-width="3"/>
<path d="M1247,2050 L1247,1955 A95,95 0 1 1 1170.1,1994.2 Z" fill="#f0d3c6" stroke="#fff" stroke-width="2"/>
<path d="M1247,2050 L1170.1,1994.2 A95,95 0 0 1 1247,1955 Z" fill="#a8cdea" stroke="#fff" stroke-width="2"/>
<text class="pl" x="1219" y="1997">いいえ</text><text class="pl" x="1219" y="2014">15%</text><text class="pl" x="1287" y="2051">はい</text><text class="pl" x="1290" y="2069">85%</text>

<!-- paragraphs -->
<g class="p">
<text class="p" x="620" y="534">このことから、校則を</text><text class="p" x="620" y="558">必要だと思っている人</text><text class="p" x="620" y="581">は、安全な学校生活</text><text class="p" x="620" y="605">を望んでいることが分</text><text class="p" x="620" y="629">かった。さらに将来に</text><text class="p" x="620" y="652">向けて、今のうちに罪</text><text class="p" x="620" y="676">を犯さないことや、就</text><text class="p" x="620" y="699">職の時にマナーが身</text><text class="p" x="620" y="723">に付いた大人になる</text><text class="p" x="620" y="747">ためといったことも考</text><text class="p" x="620" y="770">えている人がいること</text><text class="p" x="620" y="794">に気づいた。</text>
</g>
<g>
<text class="p" x="883" y="532" font-size="19">男子は校則が必要ない</text><text class="p" x="883" y="557" font-size="19">と感じている人が約4</text><text class="p" x="883" y="583" font-size="19">割もいると分かった。必</text><text class="p" x="883" y="608" font-size="19">要と思っている人の理</text><text class="p" x="883" y="634" font-size="19">由として、安全に過ごし</text><text class="p" x="883" y="659" font-size="19">たいという思いが一番</text><text class="p" x="883" y="684" font-size="19">強いと分かった。また、</text><text class="p" x="883" y="710" font-size="19">学校の風紀を乱さない</text><text class="p" x="883" y="735" font-size="19">ことや、集団の印象をよ</text><text class="p" x="883" y="761" font-size="19">くするために校則を必</text><text class="p" x="883" y="786" font-size="19">要としている人もいた</text><text class="p" x="883" y="811" font-size="19">ので、学校全体として</text><text class="p" x="883" y="837" font-size="19">の印象を大事にしてい</text><text class="p" x="883" y="862" font-size="19">る人が多いのと思った。</text>
</g>
<g>
<text class="p" x="645" y="930" font-size="17">この結果から、校則</text><text class="p" x="645" y="953" font-size="17">を知ることが出来</text><text class="p" x="645" y="977" font-size="17">たのは、主に入学</text><text class="p" x="645" y="1000" font-size="17">の時だと分かった。</text><text class="p" x="645" y="1024" font-size="17">一方で、校則を知</text><text class="p" x="645" y="1047" font-size="17">らない人がいると</text><text class="p" x="645" y="1071" font-size="17">いう事実に驚いた。</text><text class="p" x="645" y="1094" font-size="17">校則を一斉に確認</text><text class="p" x="645" y="1118" font-size="17">する機会が少な</text><text class="p" x="645" y="1141" font-size="17">い、または見たがも</text><text class="p" x="645" y="1165" font-size="17">う忘れてしまったと</text><text class="p" x="645" y="1188" font-size="17">いう人が知らない</text><text class="p" x="645" y="1212" font-size="17">と答えた人なのか</text><text class="p" x="645" y="1235" font-size="17">と思った。</text>
</g>
<g>
<text class="p" x="905" y="1029" font-size="17">この結果から、校則</text><text class="p" x="905" y="1054" font-size="17">を知らないと答えて</text><text class="p" x="905" y="1080" font-size="17">いる人が約1割いる</text><text class="p" x="905" y="1105" font-size="17">ことが分かった。一</text><text class="p" x="905" y="1131" font-size="17">方で、校則を知って</text><text class="p" x="905" y="1156" font-size="17">いる人は、主に入学</text><text class="p" x="905" y="1182" font-size="17">説明会という行事</text><text class="p" x="905" y="1207" font-size="17">で知ったことから、</text><text class="p" x="905" y="1233" font-size="17">行事という特別な</text><text class="p" x="905" y="1258" font-size="17">機会だからこそ校</text><text class="p" x="905" y="1284" font-size="17">則を認知しやすかっ</text><text class="p" x="905" y="1309" font-size="17">たのかと思った。</text>
</g>
<g>
<text class="p" x="656" y="1357" font-size="17">この結果から、校則</text><text class="p" x="656" y="1379" font-size="17">に不満を持っている</text><text class="p" x="656" y="1400" font-size="17">人が約8割いること</text><text class="p" x="656" y="1422" font-size="17">が分かった。そのうち</text><text class="p" x="656" y="1444" font-size="17">上位は、自分の容姿</text><text class="p" x="656" y="1465" font-size="17">にかかわるものだと</text><text class="p" x="656" y="1487" font-size="17">知った。身に着ける</text><text class="p" x="656" y="1508" font-size="17">ものに不満を持つ人</text><text class="p" x="656" y="1530" font-size="17">もいたため、個々の</text><text class="p" x="656" y="1552" font-size="17">学校にいる女子は、</text><text class="p" x="656" y="1573" font-size="17">見た目にこだわる人</text><text class="p" x="656" y="1595" font-size="17">が多いと感じた。</text>
</g>
<g>
<text class="p" x="921" y="1439" font-size="18">この結果から校則に不</text><text class="p" x="921" y="1461" font-size="18">満を持っている人ともっ</text><text class="p" x="921" y="1483" font-size="18">ていない人の割合があ</text><text class="p" x="921" y="1504" font-size="18">まり変わらないことが分</text><text class="p" x="921" y="1526" font-size="18">かった。不満を持ってい</text><text class="p" x="921" y="1548" font-size="18">ない人は持ち込んでは</text><text class="p" x="921" y="1569" font-size="18">いけないものを決めた</text><text class="p" x="921" y="1591" font-size="18">方がいいという意見が</text><text class="p" x="921" y="1613" font-size="18">最も多かった。</text>
</g>
<g>
<text class="p" x="1442" y="1444" font-size="18">質問1で「校則は必要だ</text><text class="p" x="1442" y="1466" font-size="18">と思う」と答えた人が6割</text><text class="p" x="1442" y="1487" font-size="18">もいたのに校則の内容に</text><text class="p" x="1442" y="1509" font-size="18">納得していない人が半数</text><text class="p" x="1442" y="1530" font-size="18">以上いて驚いた。校則に</text><text class="p" x="1442" y="1552" font-size="18">よって安心が保たれてい</text><text class="p" x="1442" y="1574" font-size="18">るのを知りながらも不満</text><text class="p" x="1442" y="1595" font-size="18">を持っている人がいるこ</text><text class="p" x="1442" y="1617" font-size="18">とが分かった。</text>
</g>
<g>
<text class="p" x="621" y="1940" font-size="17">校則を守れていると感じて</text><text class="p" x="621" y="1966" font-size="17">いる人は、全体の約８割い</text><text class="p" x="621" y="1991" font-size="17">るということが分かった。一</text><text class="p" x="621" y="2017" font-size="17">方で、校則を守れていない</text><text class="p" x="621" y="2043" font-size="17">と感じている人もいるという</text><text class="p" x="621" y="2068" font-size="17">ことが分かった。不満を持っ</text><text class="p" x="621" y="2094" font-size="17">ている人が多いからこそ守</text><text class="p" x="621" y="2119" font-size="17">ろうとしない人も少なからず</text><text class="p" x="621" y="2145" font-size="17">いるのではないかと思った。</text>
</g>
<g>
<text class="p" x="1428" y="1990" font-size="19">校則を守れていると感じ</text><text class="p" x="1428" y="2015" font-size="19">ている人は不満があると</text><text class="p" x="1428" y="2041" font-size="19">答えた人より多いことが</text><text class="p" x="1428" y="2067" font-size="19">分かった。このことから</text><text class="p" x="1428" y="2092" font-size="19">男子は、不満を持ってい</text><text class="p" x="1428" y="2118" font-size="19">るが、校則を守ろうとして</text><text class="p" x="1428" y="2144" font-size="19">いる人が多いと思った。</text>
</g>

<!-- summary -->
<rect x="56" y="2160" width="1592" height="163" fill="#fff" stroke="#111" stroke-width="2.5"/>
<g font-size="23">
<text x="67" y="2190" font-size="23" textLength="1570" lengthAdjust="spacingAndGlyphs">今回のアンケートの結果では、中学2年生がどんな思いでいるのか、その本音を知ることが出来ました。男女別で結果を集めてみたところ、校則に対</text>
<text x="67" y="2221" font-size="23" textLength="1570" lengthAdjust="spacingAndGlyphs">し不満を持つ子が多いと分かりました。私自身不満を持ってはいるけれど、ちゃんとした理由があるので納得できています。もしかしたら、校則がある</text>
<text x="67" y="2252" font-size="23" textLength="1570" lengthAdjust="spacingAndGlyphs">理由をみんなが認知すれば、納得をすることができ、不満が解消されるのではないかと考えました。また、この学校の中には自分の通っている学校な</text>
<text x="67" y="2282" font-size="23" textLength="1570" lengthAdjust="spacingAndGlyphs">のに、校則を知らない人もいることが分かったので、校則を認知してもらうことも大切だと感じました。私は今回のアンケートを通して、校則を認知して</text>
<text x="67" y="2315" font-size="23" textLength="1478" lengthAdjust="spacingAndGlyphs">もらうこと、その理由を知り全員が納得することが課題と分かったので、自分から校則の大切さと伝えられるようにしていきたいと感じました。</text>
</g>
<text x="1089" y="2346" font-size="16" font-weight="normal" font-family="Liberation Serif,'Noto Serif CJK SC',serif" textLength="564" lengthAdjust="spacingAndGlyphs">令和7年6月　雁が音中学校　中学2年生161人(女子75人　男子86人)調べ</text>
</svg>
</body></html>
